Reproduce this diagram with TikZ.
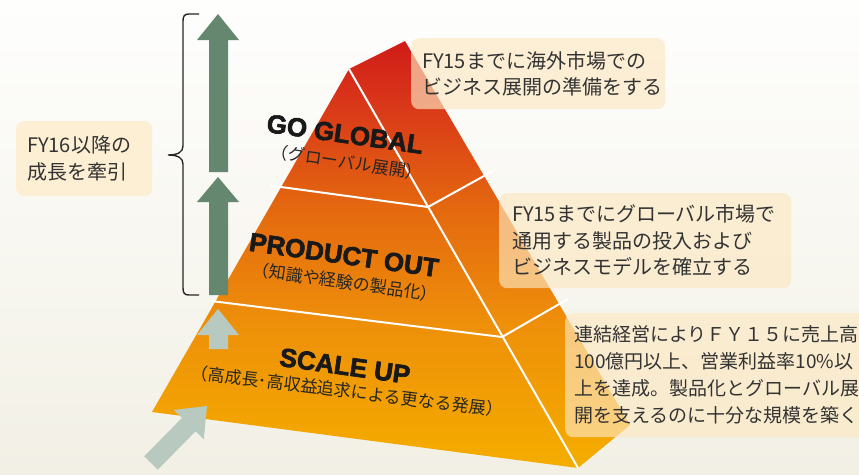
\documentclass[tikz,border=0pt]{standalone}
\usepackage{fontspec}
\newfontfamily\jp{Noto Sans CJK JP}
\newfontfamily\titlefont{Liberation Sans}[BoldFeatures={FakeBold=2.5}]
\definecolor{bgtop}{HTML}{FEFEFD}
\definecolor{bgbot}{HTML}{F2F0E5}
\definecolor{pa}{HTML}{F5AD00}
\definecolor{pb}{HTML}{F3A600}
\definecolor{pc}{HTML}{EE900A}
\definecolor{pd}{HTML}{E4690F}
\definecolor{pe}{HTML}{D8331A}
\definecolor{pf}{HTML}{D01C18}
\pgfdeclareverticalshading{pyrshade}{100bp}{color(0bp)=(pa); color(25bp)=(pa); color(28.9bp)=(pb); color(41.7bp)=(pc); color(55.2bp)=(pd); color(68.7bp)=(pe); color(75bp)=(pf); color(100bp)=(pf)}
\definecolor{gdark}{HTML}{66876F}
\definecolor{glight}{HTML}{B8C9C0}
\definecolor{boxc}{HTML}{FDE8C1}
\definecolor{txt}{HTML}{333333}
\tikzset{
  title/.style={font=\titlefont\bfseries\fontsize{26}{26}\selectfont, text=black!90, inner sep=0pt},
  subt/.style={font=\jp\fontsize{17}{17}\selectfont, text=black!85, inner sep=0pt},
  infobox/.style={fill=boxc, fill opacity=0.65, text opacity=1, rounded corners=8pt,
    anchor=north west, align=left, text=txt, inner ysep=0pt},
  divider/.style={white, line width=2pt},
}
\begin{document}
\begin{tikzpicture}[x=1pt,y=-1pt]
\useasboundingbox (0,0) rectangle (859,474);
\shade[top color=bgtop, bottom color=bgbot] (0,0) rectangle (859,474);
\clip (0,0) rectangle (859,474);
% pyramid faces
\begin{scope}
  \clip (349,69) -- (578,468) -- (152,412) -- cycle
        (349,69) -- (405,41) -- (630,425) -- (578,468) -- cycle;
  \shade[shading=pyrshade] (140,41) rectangle (640,468);
\end{scope}
% white edges
\coordinate (apex) at (349,69);
\coordinate (base) at (578,468);
\draw[divider] (apex) -- (base);
\coordinate (r1) at (428,207);
\coordinate (r2) at (502,337);
\draw[divider] (270,185.5) -- (r1) -- (493,171);
\draw[divider] (211,301) -- (r2) -- (568,299);
% labels
\node[title, rotate=-8] (gg) at (345,134) {GO GLOBAL};
\node[subt, rotate=-8.5] (ggs) at (347,162) {（グローバル展開）};
\node[title, rotate=-8] (po) at (344,255) {PRODUCT OUT};
\node[subt, rotate=-8] (pos) at (345,282) {（知識や経験の製品化）};
\node[title, rotate=-8] (su) at (345,366) {SCALE UP};
\node[subt, rotate=-7] (sus) at (347,391) {（高成長･高収益追求による更なる発展）};
% arrows
\fill[gdark] (218,14) -- (239,40) -- (228,40) -- (228,172) -- (209,172) -- (209,40) -- (197,40) -- cycle;
\fill[gdark] (218,177) -- (239,202) -- (228,202) -- (228,295) -- (209,295) -- (209,202) -- (197,202) -- cycle;
\fill[glight] (218,309) -- (239,335) -- (228,335) -- (228,349) -- (209,349) -- (209,335) -- (197,335) -- cycle;
\fill[glight] (207,406) -- (203.8,439.3) -- (195.6,431.3) -- (157.8,469.7) -- (144.2,456.3) -- (182,417.9) -- (173.8,409.9) -- cycle;
% brace
\draw[line width=1.4pt, black!85] (199,14) -- (189,14) .. controls (184.5,14) and (183,16) .. (183,21)
  -- (183,146) .. controls (183,152) and (178,155) .. (168,155)
  .. controls (178,155) and (183,158) .. (183,164)
  -- (183,288) .. controls (183,293) and (184.5,295) .. (189,295) -- (199,295);
% boxes
\node[infobox, fill opacity=1, fill=boxc!70!bgtop, inner xsep=11pt, text width=114pt, minimum height=75pt,
  font=\jp\fontsize{20}{27}\selectfont] (lb) at (16,121) {FY16以降の\\成長を牽引};
\node[infobox, inner xsep=11pt, text width=232pt, minimum height=71pt,
  font=\jp\fontsize{20}{26}\selectfont] (b1) at (411,38) {FY15までに海外市場での\\ビジネス展開の準備をする};
\node[infobox, inner xsep=13pt, text width=266pt, minimum height=95pt,
  font=\jp\fontsize{20}{26.5}\selectfont] (b2) at (499,193) {FY15までにグローバル市場で\\通用する製品の投入および\\ビジネスモデルを確立する};
\node[infobox, inner xsep=9pt, text width=330pt, minimum height=124pt,
  font=\jp\fontsize{19}{27}\selectfont] (b3) at (565,313) {連結経営によりＦＹ１５に売上高\\100億円以上、営業利益率10\%以\\上を達成。製品化とグローバル展\\開を支えるのに十分な規模を築く};
\end{tikzpicture}
\end{document}
